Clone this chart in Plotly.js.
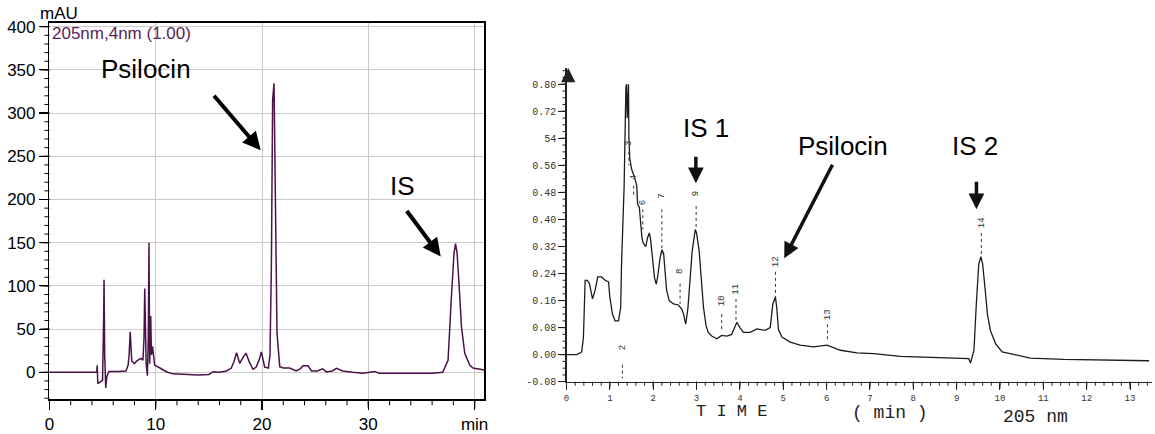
<!DOCTYPE html>
<html>
<head>
<meta charset="utf-8">
<script src="https://cdn.plot.ly/plotly-3.0.1.min.js"></script>
<style>html,body{margin:0;padding:0;background:#fff;}#chart{width:1155px;height:434px;}</style>
</head>
<body>
<div id="chart"></div>
<script>
// ---------- Left chromatogram (HPLC-DAD, 205 nm) ----------
const timeA = [0,4.45,4.5,4.55,4.8,5.0,5.1,5.14,5.2,5.3,5.4,5.6,6.5,7.2,7.4,7.5,7.6,7.68,7.75,7.85,8.0,8.2,8.4,8.6,8.8,8.9,8.97,9.03,9.1,9.22,9.3,9.37,9.43,9.48,9.53,9.6,9.7,9.8,9.9,10.4,11.0,11.6,12.5,14,15,15.4,16,16.65,17.1,17.35,17.6,17.9,18.2,18.5,18.8,19.15,19.45,19.75,19.94,20.1,20.25,20.6,20.75,20.88,21.0,21.13,21.26,21.41,21.67,22.0,22.6,23.2,23.6,23.85,24.33,24.65,25.2,25.7,26.06,26.6,27.0,27.6,28.5,29.5,30.6,31.0,33,36,37.0,37.5,37.8,38.06,38.2,38.35,38.53,38.76,39.07,39.54,39.85,40.91];
const mAU   = [0,0,8,-13,-11,-9,60,107,20,-18,-5,1,1,1.5,8,20,47,30,13,12,10,13,15,16,14,40,97,30,10,-4,40,150,10,40,65,20,30,14,8.4,5,0.7,-1.8,-2.5,-3,-2.5,0.7,0,1.5,4.6,12,22.7,10.4,17,22,12,3.5,6,15,23.7,12,6,5,20,122,315,334.5,199,45,6.5,5,5,1.5,4,7.6,7.6,1.5,1.5,4,0.5,1.5,4.5,1.5,0,-1,1,-1,-1,-1,0,14,84,138,149,138,103,53,22,8.4,5,2.7];
const aliasA_x = {'40': 'min'};

// ---------- Right chromatogram (scanned, 205 nm) ----------
const timeB = [0,0.24,0.35,0.39,0.43,0.48,0.53,0.6,0.66,0.72,0.81,0.89,0.97,1.0,1.06,1.12,1.2,1.25,1.27,1.33,1.37,1.385,1.40,1.415,1.43,1.44,1.46,1.5,1.54,1.58,1.62,1.64,1.68,1.7,1.74,1.77,1.83,1.87,1.91,1.94,1.99,2.03,2.07,2.1,2.16,2.2,2.24,2.27,2.31,2.37,2.47,2.58,2.66,2.7,2.75,2.8,2.85,2.9,2.97,3.0,3.06,3.1,3.16,3.22,3.27,3.35,3.47,3.58,3.7,3.81,3.93,4.0,4.08,4.24,4.39,4.58,4.7,4.76,4.82,4.85,4.89,4.97,5.16,5.39,5.7,6.01,6.32,6.7,7.09,7.7,8.47,9.28,9.32,9.4,9.45,9.51,9.56,9.6,9.66,9.71,9.78,9.9,10.05,10.24,10.7,11.47,12.24,13.44];
const absB  = [0,0,0.008,0.05,0.22,0.22,0.21,0.165,0.19,0.23,0.23,0.22,0.215,0.17,0.12,0.1,0.1,0.14,0.27,0.5,0.79,0.80,0.70,0.80,0.80,0.64,0.58,0.55,0.537,0.52,0.50,0.445,0.436,0.40,0.346,0.33,0.32,0.346,0.36,0.34,0.268,0.228,0.209,0.228,0.287,0.31,0.30,0.248,0.19,0.16,0.15,0.147,0.135,0.12,0.09,0.136,0.228,0.307,0.37,0.36,0.307,0.25,0.14,0.085,0.066,0.055,0.047,0.057,0.055,0.06,0.096,0.08,0.066,0.066,0.076,0.072,0.08,0.15,0.17,0.14,0.074,0.052,0.037,0.028,0.023,0.028,0.013,0.005,0.003,-0.005,-0.008,-0.012,-0.025,0.013,0.14,0.268,0.29,0.268,0.19,0.12,0.071,0.032,0.008,0.003,-0.01,-0.014,-0.015,-0.018];
const aliasB_y = {'0.64': '54', '\u22120.08': '-0.08'};
const peakLabels = ['2','3','4','6','7','8','9','10','11','12','13','14'];
const peakT      = [1.29,1.44,1.55,1.76,2.20,2.62,2.99,3.58,3.91,4.82,6.02,9.57];
const peakLabelV = [0.02,0.626,0.525,0.45,0.47,0.245,0.475,0.16,0.195,0.275,0.118,0.39];
const markTop    = [-0.03,0.60,0.50,0.43,0.43,0.21,0.44,0.12,0.165,0.245,0.09,0.36];
const markBot    = [-0.07,0.56,0.47,0.37,0.29,0.15,0.37,0.075,0.10,0.17,0.04,0.295];

const mx = [], my = [];
for (let i = 0; i < peakT.length; i++) { mx.push(peakT[i], peakT[i], null); my.push(markTop[i], markBot[i], null); }

const traces = [
  {x: timeA, y: mAU, xaxis: 'x', yaxis: 'y', mode: 'lines', line: {color: '#4a1248', width: 1.5}},
  {x: timeB, y: absB, xaxis: 'x2', yaxis: 'y2', mode: 'lines', line: {color: '#1c1c1c', width: 1.3}},
  {x: mx, y: my, xaxis: 'x2', yaxis: 'y2', mode: 'lines', line: {color: '#333', width: 1, dash: 'dot'}}
];

const W = 1155, H = 434;
const px = v => v / W, py = v => 1 - v / H;
const sans = 'Liberation Sans, Arial, sans-serif';
const mono = 'Liberation Mono, DejaVu Sans Mono, monospace';

// axis geometry (pixels)
const A = {left: 49.4, right: 484.3, top: 22.7, bottom: 399.3};
const B = {left: 566.5, right: 1151.7, top: 68, bottom: 381.7};

// axis tick decoration drawn as shapes (generated from axis steps)
const shapes = [];
function xTicks(xref, yPix, start, end, step, len, color, w) {
  const n = Math.round((end - start) / step);
  for (let i = 0; i <= n; i++) {
    const v = +(start + i * step).toFixed(6);
    shapes.push({type: 'line', xref: xref, yref: 'paper', x0: v, x1: v, y0: py(yPix), y1: py(yPix + len), line: {color: color, width: w}});
  }
}
function yTicks(yref, xPix, start, end, step, len, color, w) {
  const n = Math.round((end - start) / step);
  for (let i = 0; i <= n; i++) {
    const v = +(start + i * step).toFixed(6);
    shapes.push({type: 'line', xref: 'paper', yref: yref, x0: px(xPix), x1: px(xPix - len), y0: v, y1: v, line: {color: color, width: w}});
  }
}
xTicks('x', A.bottom, 0, 40, 2, 6, '#000', 1);
xTicks('x', A.bottom, 0, 40, 10, 9, '#000', 1.2);
yTicks('y', A.left, -30, 400, 10, 5, '#000', 1);
yTicks('y', A.left, 0, 400, 50, 9, '#000', 1.2);
xTicks('x2', B.bottom, 0, 13.4, 0.2, 4, '#222', 1);
xTicks('x2', B.bottom, 0, 13, 1, 7, '#222', 1);
yTicks('y2', B.left, -0.08, 0.84, 0.02, 4, '#222', 1);
yTicks('y2', B.left, -0.08, 0.80, 0.08, 7, '#222', 1);

const annotations = [
  {xref: 'paper', yref: 'paper', x: px(59), y: py(13.5), text: 'mAU', showarrow: false, font: {family: sans, size: 17, color: '#000'}, xanchor: 'center', yanchor: 'middle'},
  {xref: 'paper', yref: 'paper', x: px(50), y: py(33), text: '205nm,4nm (1.00)', showarrow: false, font: {family: sans, size: 17, color: '#5a1d58'}, xanchor: 'left', yanchor: 'middle'},
  {xref: 'paper', yref: 'paper', x: px(146), y: py(69), text: 'Psilocin', showarrow: false, font: {family: sans, size: 26, color: '#000'}, xanchor: 'center', yanchor: 'middle'},
  {xref: 'paper', yref: 'paper', x: px(402), y: py(186), text: 'IS', showarrow: false, font: {family: sans, size: 26, color: '#000'}, xanchor: 'center', yanchor: 'middle'},
  {xref: 'x', yref: 'y', x: 19.88, y: 257, ax: -48, ay: -56, text: '', showarrow: true, arrowhead: 2, arrowsize: 0.9, arrowwidth: 4, arrowcolor: '#000'},
  {xref: 'x', yref: 'y', x: 36.81, y: 134, ax: -35, ay: -47, text: '', showarrow: true, arrowhead: 2, arrowsize: 0.9, arrowwidth: 4, arrowcolor: '#000'},
  {xref: 'paper', yref: 'paper', x: px(706), y: py(128), text: 'IS 1', showarrow: false, font: {family: sans, size: 26, color: '#000'}, xanchor: 'center', yanchor: 'middle'},
  {xref: 'paper', yref: 'paper', x: px(842.5), y: py(146), text: 'Psilocin', showarrow: false, font: {family: sans, size: 26, color: '#000'}, xanchor: 'center', yanchor: 'middle'},
  {xref: 'paper', yref: 'paper', x: px(975), y: py(146), text: 'IS 2', showarrow: false, font: {family: sans, size: 26, color: '#000'}, xanchor: 'center', yanchor: 'middle'},
  {xref: 'x2', yref: 'y2', x: 2.984, y: 0.507, ax: 0, ay: -28, text: '', showarrow: true, arrowhead: 2, arrowsize: 0.9, arrowwidth: 3.5, arrowcolor: '#111'},
  {xref: 'x2', yref: 'y2', x: 5.023, y: 0.285, ax: 49, ay: -95, text: '', showarrow: true, arrowhead: 2, arrowsize: 0.9, arrowwidth: 3.5, arrowcolor: '#111'},
  {xref: 'x2', yref: 'y2', x: 9.457, y: 0.43, ax: 0, ay: -29, text: '', showarrow: true, arrowhead: 2, arrowsize: 0.9, arrowwidth: 3.5, arrowcolor: '#111'},
  {xref: 'x2', yref: 'y2', x: 0.04, y: 0.848, ax: 0, ay: 10, text: '', showarrow: true, arrowhead: 2, arrowsize: 2.2, arrowwidth: 1.3, arrowcolor: '#222'},
  {xref: 'paper', yref: 'paper', x: px(731), y: py(411.5), text: 'T I M E', showarrow: false, font: {family: mono, size: 17, color: '#222'}, xanchor: 'center', yanchor: 'middle'},
  {xref: 'paper', yref: 'paper', x: px(890), y: py(413), text: '( min )', showarrow: false, font: {family: mono, size: 18, color: '#222'}, xanchor: 'center', yanchor: 'middle'},
  {xref: 'paper', yref: 'paper', x: px(1035), y: py(416.5), text: '205 nm', showarrow: false, font: {family: mono, size: 18, color: '#222'}, xanchor: 'center', yanchor: 'middle'}
];
for (let i = 0; i < peakLabels.length; i++) {
  annotations.push({xref: 'x2', yref: 'y2', x: peakT[i], y: peakLabelV[i], text: peakLabels[i], showarrow: false, textangle: -90, font: {family: mono, size: 9, color: '#333'}, xanchor: 'center', yanchor: 'middle'});
}

const layout = {
  width: W, height: H, margin: {l: 0, r: 0, t: 0, b: 0}, showlegend: false,
  annotations: annotations,
  shapes: shapes,
  xaxis: {domain: [px(A.left), px(A.right)], range: [0, 40.91], anchor: 'y', tickmode: 'linear', tick0: 0, dtick: 10, labelalias: aliasA_x,
    ticks: 'outside', ticklen: 9, tickwidth: 1.2, tickcolor: '#000', showline: true, mirror: true, linecolor: '#000', linewidth: 1.5,
    showgrid: true, gridcolor: '#cbcbcb', zeroline: false, tickfont: {family: sans, size: 17, color: '#000'}},
  yaxis: {domain: [py(A.bottom), py(A.top)], range: [-31.25, 404.6], anchor: 'x', tickmode: 'linear', tick0: 0, dtick: 50,
    ticks: 'outside', ticklen: 9, tickwidth: 1.2, tickcolor: '#000', showline: true, mirror: true, linecolor: '#000', linewidth: 1.5,
    showgrid: true, gridcolor: '#cbcbcb', zeroline: false, tickfont: {family: sans, size: 17, color: '#000'}},
  xaxis2: {domain: [px(B.left), px(B.right)], range: [0, 13.5], anchor: 'y2', tickmode: 'linear', tick0: 0, dtick: 1,
    ticks: 'outside', ticklen: 7, tickcolor: '#222', showline: true, linecolor: '#222', linewidth: 1.3, showgrid: false, zeroline: false,
    tickfont: {family: mono, size: 9, color: '#333'}},
  yaxis2: {domain: [py(B.bottom), py(B.top)], range: [-0.08, 0.848], anchor: 'x2', tickmode: 'linear', tick0: 0, dtick: 0.08, tickformat: '.2f', labelalias: aliasB_y,
    ticks: 'outside', ticklen: 7, tickcolor: '#222', showline: true, linecolor: '#222', linewidth: 1.3, showgrid: false, zeroline: false,
    tickfont: {family: mono, size: 10, color: '#333'}}
};

Plotly.newPlot('chart', traces, layout, {staticPlot: true, displayModeBar: false});
</script>
</body>
</html>
